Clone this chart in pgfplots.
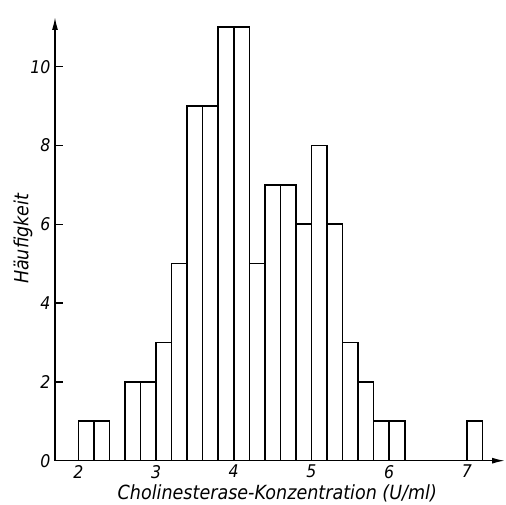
\documentclass[border=0pt]{standalone}
\usepackage{fontspec}
\setmainfont{DejaVu Sans}[FakeStretch=0.9]
\usepackage{pgfplots}
\pgfplotsset{compat=1.18}
\usetikzlibrary{arrows.meta}

\begin{document}
\begin{tikzpicture}
\begin{axis}[
  scale only axis, width=450pt, height=443.7pt,
  xmin=1.70, xmax=7.49, ymin=0, ymax=11.26,
  axis lines=left,
  axis line style={line width=1.5pt, -{Latex[length=13pt,width=6pt]}},
  xtick={2,3,4,5,6,7}, ytick={0,2,4,6,8,10},
  tick align=inside, major tick length=8pt,
  ytick style={line width=1.3pt, black},
  xtick style={draw=none},
  /pgf/number format/assume math mode=true,
  tick label style={font=\fontsize{17.5}{17.5}\selectfont\itshape},
  yticklabel style={xshift=-1pt},
  xticklabel style={yshift=-1pt},
  xlabel={Cholinesterase-Konzentration (U/ml)},
  ylabel={Häufigkeit},
  label style={font=\fontsize{19.5}{19.5}\selectfont\itshape},
  xlabel style={at={(rel axis cs:0.494,0)}, anchor=base, yshift=-39pt},
  ylabel style={at={(axis description cs:-0.071,0.5)}, anchor=center},
]
% Haeufigkeiten je Klasse (Breite 0.2 U/ml), linker Rand
\addplot[ybar interval, fill=white, draw=black, line width=1.6pt] coordinates {
  (2.0,1) (2.2,1) (2.4,0) (2.6,2) (2.8,2) (3.0,3) (3.2,5) (3.4,9) (3.6,9)
  (3.8,11) (4.0,11) (4.2,5) (4.4,7) (4.6,7) (4.8,6) (5.0,8) (5.2,6)
  (5.4,3) (5.6,2) (5.8,1) (6.0,1) (6.2,0) (6.4,0) (6.6,0) (6.8,0)
  (7.0,1) (7.2,1)
};
\end{axis}
\pgfresetboundingbox
\path[use as bounding box] (-55pt,-44.3pt) rectangle (451pt,460.7pt);
\end{tikzpicture}
\end{document}
